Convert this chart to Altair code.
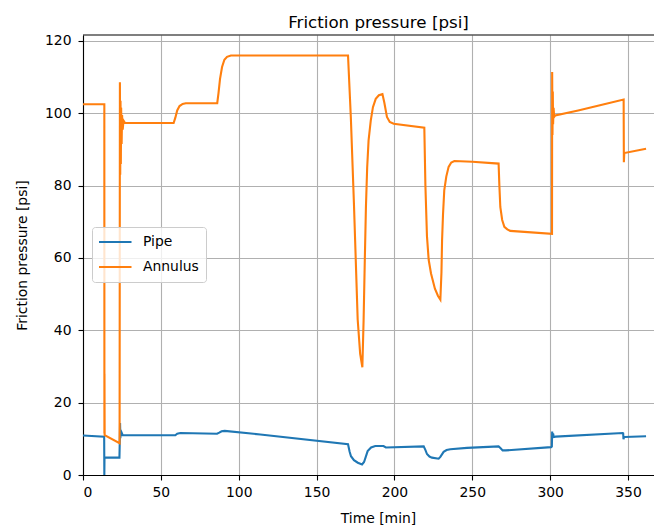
import altair as alt
import pandas as pd

# ---- data ----
pipe_t = [0, 13.6, 13.7, 13.8, 14.5, 23.4, 23.6, 23.8, 24.0, 24.2, 24.5, 24.9, 25.5,
          59.3, 60.5, 62.5, 86.1, 87.5, 89.0, 91.0, 113.9, 170.2, 171.2, 172.1, 174.0,
          176.5, 179.2, 180.5, 182.8, 185.0, 187.7, 193.0, 194.5, 218.8, 220.0, 220.9,
          222.5, 224.1, 228.4, 229.5, 231.6, 233.5, 235.9, 246.6, 266.9, 268.2, 269.5,
          271.5, 300.6, 301.1, 301.3, 301.6, 301.9, 302.3, 303.5, 346.6, 346.9, 347.1,
          347.4, 348.0, 361.6]
pipe_v = [10.9, 10.6, 0.0, 4.8, 4.8, 4.8, 9.0, 14.4, 10.2, 12.5, 10.8, 11.6, 11.0,
          11.0, 11.4, 11.6, 11.4, 11.7, 12.1, 12.2, 11.2, 8.5, 6.5, 5.2, 4.1,
          3.4, 2.9, 3.6, 6.6, 7.6, 8.0, 8.0, 7.6, 7.9, 6.8, 5.8,
          5.1, 4.8, 4.5, 5.0, 6.4, 6.9, 7.1, 7.5, 7.9, 7.4, 6.8,
          6.8, 7.7, 7.9, 12.0, 10.4, 11.5, 10.5, 10.6, 11.6, 11.5, 9.9,
          10.4, 10.5, 10.7]

ann_t = [0, 13.7, 13.75, 13.8, 13.85, 13.9, 23.5, 23.7, 23.9, 24.1, 24.3, 24.5, 24.8,
         25.1, 25.5, 26.0, 27.0, 58.2, 59.3, 60.5, 62.0, 64.0, 66.0, 86.2, 87.0, 88.0,
         89.3, 90.8, 92.5, 95.0, 170.2, 172.0, 174.0, 176.4, 178.0, 179.4, 180.2, 181.0,
         181.7, 182.5, 183.4, 184.8, 186.2, 188.0, 190.0, 192.3, 193.5, 195.2, 197.0,
         199.5, 219.2, 219.9, 220.9, 222.0, 223.5, 226.0, 228.0, 229.5, 230.2, 230.6,
         231.2, 232.0, 233.3, 234.8, 236.5, 238.5, 250.0, 266.9, 267.4, 268.0, 269.2,
         270.6, 272.5, 274.4, 301.2, 301.3, 301.5, 301.7, 301.9, 302.2, 302.6, 303.3,
         318.0, 332.0, 347.2, 347.35, 347.6, 361.6]
ann_v = [102.5, 102.5, 11.5, 28.0, 18.0, 11.0, 8.8, 108.6, 83.0, 103.5, 86.0, 101.5, 91.5,
         99.5, 95.5, 98.0, 97.3, 97.3, 98.8, 100.8, 102.0, 102.6, 102.8, 102.8, 105.5, 109.5,
         112.8, 114.8, 115.6, 116.0, 116.0, 99.0, 75.0, 43.0, 33.5, 29.8, 42.7, 60.0,
         74.1, 85.0, 92.5, 98.0, 101.7, 104.0, 105.0, 105.3, 103.0, 99.0, 97.6,
         97.1, 96.0, 80.0, 66.0, 59.5, 55.7, 51.5, 49.5, 48.5, 56.0, 64.9,
         72.0, 78.7, 82.5, 85.2, 86.4, 86.8, 86.6, 86.1, 80.0, 74.1, 70.5,
         68.6, 67.9, 67.5, 66.7, 111.4, 94.0, 106.0, 97.0, 101.5, 99.0, 99.4,
         100.8, 102.2, 103.8, 86.5, 89.0, 90.2]

series_names = ["Pipe", "Annulus"]
series_colors = ["#1f77b4", "#ff7f0e"]
x_ticks = [0, 50, 100, 150, 200, 250, 300, 350]
y_ticks = [0, 20, 40, 60, 80, 100, 120]
X_MAX = 366.7
Y_MAX = 121.65

rows = []
for name, ts, vs in [("Pipe", pipe_t, pipe_v), ("Annulus", ann_t, ann_v)]:
    for i, (t, v) in enumerate(zip(ts, vs)):
        rows.append({"series": name, "t": t, "v": v, "idx": i})
df = pd.DataFrame(rows)

FONT = "DejaVu Sans"

lines = alt.Chart(df).mark_line(strokeWidth=2.1).encode(
    x=alt.X("t:Q", scale=alt.Scale(domain=[0, X_MAX], nice=False, zero=False),
            axis=alt.Axis(values=x_ticks, title="Time [min]", titleX=295, titleY=47,
                          titleBaseline="alphabetic", titleAlign="center",
                          labelPadding=5)),
    y=alt.Y("v:Q", scale=alt.Scale(domain=[0, Y_MAX], nice=False, zero=False),
            axis=alt.Axis(values=y_ticks, title="Friction pressure [psi]",
                          titleX=-60.5, titleY=220, titleBaseline="middle",
                          titleAlign="center", titleAngle=270, labelPadding=7)),
    color=alt.Color("series:N",
                    scale=alt.Scale(domain=series_names, range=series_colors),
                    legend=alt.Legend(title=None, orient="none", legendX=9, legendY=192,
                                      symbolType="stroke", symbolSize=1225,
                                      symbolStrokeWidth=2.1, symbolOffset=-4,
                                      clipHeight=16, labelFontSize=13.9,
                                      labelFont=FONT, labelColor="black",
                                      labelExpr="datum.label + '\u00a0\u00a0\u00a0\u00a0\u00a0\u00a0'",
                                      padding=7, rowPadding=9, labelOffset=10,
                                      fillColor="rgba(255,255,255,0.8)",
                                      strokeColor="#cccccc", cornerRadius=3)),
    order="idx:Q",
)

top_spine = alt.Chart(pd.DataFrame({"y": [Y_MAX]})).mark_rule(
    color="black", strokeWidth=1.1).encode(y=alt.Y("y:Q"))

chart = alt.layer(lines, top_spine).properties(
    width=571, height=440,
    padding={"left": 75, "top": 27, "right": 0, "bottom": 52},
    autosize=alt.AutoSizeParams(type="none"),
    title=alt.TitleParams(text="Friction pressure [psi]", fontSize=16.7, font=FONT,
                          fontWeight="normal", color="black", anchor="middle",
                          dx=10, dy=19, offset=8, baseline="alphabetic"),
).configure_axis(
    gridColor="#b0b0b0", gridWidth=1.1, domainColor="black", domainWidth=1.1,
    tickColor="black", tickWidth=1.1, tickSize=5, labelFont=FONT, labelFontSize=13.9,
    labelColor="black", titleFont=FONT, titleFontSize=13.9, titleFontWeight="normal",
    titleColor="black",
).configure_view(strokeWidth=0)

chart.save("out.html", embed_options={"renderer": "svg", "actions": False})
